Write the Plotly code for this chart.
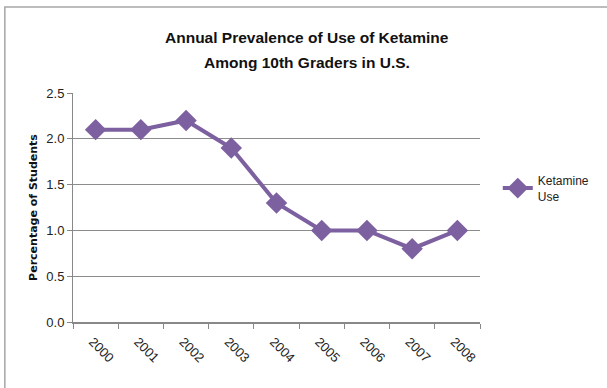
import plotly.graph_objects as go

years = ["2000", "2001", "2002", "2003", "2004", "2005", "2006", "2007", "2008"]
ketamine_use = [2.1, 2.1, 2.2, 1.9, 1.3, 1.0, 1.0, 0.8, 1.0]
title_lines = ["Annual Prevalence of Use of Ketamine", "Among 10th Graders in U.S."]

PURPLE = "#7D60A0"
FONT = "Liberation Sans, Arial, sans-serif"

fig = go.Figure()
fig.add_trace(go.Scatter(
    x=years, y=ketamine_use, mode="lines+markers", name="Ketamine<br>Use",
    line=dict(color=PURPLE, width=4),
    marker=dict(symbol="diamond", size=16.5, color=PURPLE),
))

L, R, T, B = 73, 122, 93, 66
W, H = 607, 388
pw, ph = W - L - R, H - T - B

def px(x):
    return (x - L) / pw

def py(y):
    return (H - B - y) / ph

annotations = []
for line, yc in zip(title_lines, [37, 62]):
    annotations.append(dict(
        text=line, xref="paper", yref="paper", x=px(310), y=py(yc),
        xanchor="center", yanchor="middle", showarrow=False,
        font=dict(family=FONT, size=15.5, color="#111111", weight="bold"),
    ))

fig.update_layout(
    width=W, height=H,
    margin=dict(l=L, r=R, t=T, b=B),
    paper_bgcolor="white", plot_bgcolor="white",
    font=dict(family=FONT, color="#222222", size=12),
    annotations=annotations,
    showlegend=True,
    legend=dict(x=px(503), y=py(166), xanchor="left", yanchor="top",
                font=dict(family=FONT, size=12, color="#222222"),
                bgcolor="rgba(0,0,0,0)", itemwidth=30),
    xaxis=dict(
        type="category", tickangle=45, showgrid=False,
        showline=True, linecolor="#888888", linewidth=2,
        ticks="outside", ticklen=5, tickcolor="#888888", tickson="boundaries",
        tickfont=dict(family=FONT, size=13, color="#222222"),
        ticklabelshift=-3, ticklabelstandoff=5,
        range=[-0.5, 8.5],
    ),
    yaxis=dict(
        range=[0, 2.5], dtick=0.5, tickformat=".1f",
        showgrid=True, gridcolor="#8C8C8C", gridwidth=1,
        showline=True, linecolor="#888888", linewidth=1,
        ticks="outside", ticklen=5, tickcolor="#888888",
        tickfont=dict(family=FONT, size=13, color="#222222"),
        zeroline=False,
        title=dict(text="Percentage of Students", standoff=6,
                   font=dict(family="DejaVu Sans, sans-serif", size=11, color="#111111", weight="bold")),
    ),
    shapes=[dict(type="rect", xref="paper", yref="paper",
                 x0=px(4), x1=px(620), y0=py(400), y1=py(7),
                 line=dict(color="#A6A6A6", width=1.5), layer="below")],
)

fig.write_html("out.html")
